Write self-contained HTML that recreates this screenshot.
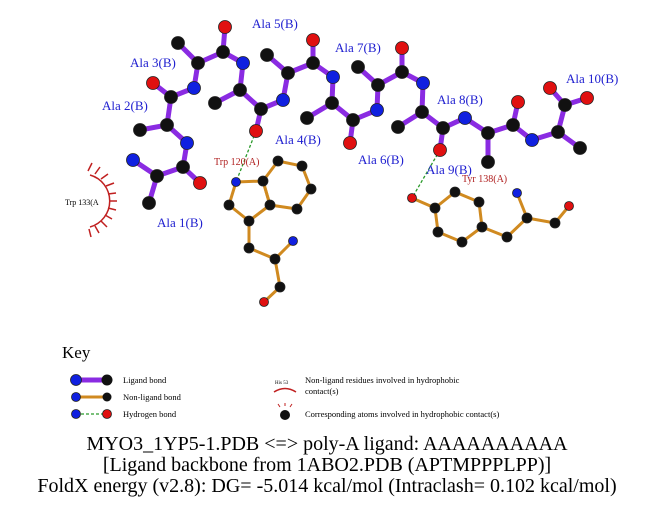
<!DOCTYPE html>
<html><head><meta charset="utf-8"><style>
body{margin:0;background:#fff}
svg{display:block}
.t{font-family:"Liberation Serif",serif}
</style></head><body>
<svg width="651" height="511" viewBox="0 0 651 511" xmlns="http://www.w3.org/2000/svg">
<g stroke="#8a2be2" stroke-width="5" stroke-linecap="round" fill="none">
<polyline points="149,203 157,176 133,160"/>
<polyline points="157,176 183,167 200,183"/>
<polyline points="183,167 187,143 167,125 140,130"/>
<polyline points="167,125 171,97 153,83"/>
<polyline points="171,97 194,88 198,63 178,43"/>
<polyline points="198,63 223,52 225,27"/>
<polyline points="223,52 243,63 240,90 215,103"/>
<polyline points="240,90 261,109 256,131"/>
<polyline points="261,109 283,100 288,73 267,55"/>
<polyline points="288,73 313,63 313,40"/>
<polyline points="313,63 333,77 332,103 307,118"/>
<polyline points="332,103 353,120 350,143"/>
<polyline points="353,120 377,110 378,85 358,67"/>
<polyline points="378,85 402,72 402,48"/>
<polyline points="402,72 423,83 422,112 398,127"/>
<polyline points="422,112 443,128 440,150"/>
<polyline points="443,128 465,118 488,133 488,162"/>
<polyline points="488,133 513,125 518,102"/>
<polyline points="513,125 532,140 558,132 580,148"/>
<polyline points="558,132 565,105 550,88"/>
<polyline points="565,105 587,98"/>
</g>
<g stroke="#d08a20" stroke-width="3" stroke-linecap="round" fill="none">
<polygon points="236,182 263,181 270,205 249,221 229,205"/>
<polygon points="263,181 278,161 302,166 311,189 297,209 270,205"/>
<polyline points="249,221 249,248 275,259 293,241"/>
<polyline points="275,259 280,287 264,302"/>
<polygon points="435,208 455,192 479,202 482,227 462,242 438,232"/>
<polyline points="412,198 435,208"/>
<polyline points="482,227 507,237 527,218 517,193"/>
<polyline points="527,218 555,223 569,206"/>
</g>
<g stroke="#2a9a2a" stroke-width="1.3" stroke-dasharray="3,2">
<line x1="256" y1="131" x2="236" y2="182"/>
<line x1="440" y1="150" x2="412" y2="198"/>
</g>
<g stroke="#222" stroke-width="0.8">
<g fill="#111">
<circle cx="149" cy="203" r="6.5"/><circle cx="157" cy="176" r="6.5"/><circle cx="183" cy="167" r="6.5"/>
<circle cx="167" cy="125" r="6.5"/><circle cx="140" cy="130" r="6.5"/><circle cx="171" cy="97" r="6.5"/>
<circle cx="198" cy="63" r="6.5"/><circle cx="178" cy="43" r="6.5"/><circle cx="223" cy="52" r="6.5"/>
<circle cx="240" cy="90" r="6.5"/><circle cx="215" cy="103" r="6.5"/><circle cx="261" cy="109" r="6.5"/>
<circle cx="288" cy="73" r="6.5"/><circle cx="267" cy="55" r="6.5"/><circle cx="313" cy="63" r="6.5"/>
<circle cx="332" cy="103" r="6.5"/><circle cx="307" cy="118" r="6.5"/><circle cx="353" cy="120" r="6.5"/>
<circle cx="378" cy="85" r="6.5"/><circle cx="358" cy="67" r="6.5"/><circle cx="402" cy="72" r="6.5"/>
<circle cx="422" cy="112" r="6.5"/><circle cx="398" cy="127" r="6.5"/><circle cx="443" cy="128" r="6.5"/>
<circle cx="488" cy="133" r="6.5"/><circle cx="488" cy="162" r="6.5"/><circle cx="513" cy="125" r="6.5"/>
<circle cx="558" cy="132" r="6.5"/><circle cx="580" cy="148" r="6.5"/><circle cx="565" cy="105" r="6.5"/>
<circle cx="263" cy="181" r="5"/><circle cx="270" cy="205" r="5"/><circle cx="249" cy="221" r="5"/><circle cx="229" cy="205" r="5"/>
<circle cx="278" cy="161" r="5"/><circle cx="302" cy="166" r="5"/><circle cx="311" cy="189" r="5"/><circle cx="297" cy="209" r="5"/>
<circle cx="249" cy="248" r="5"/><circle cx="275" cy="259" r="5"/><circle cx="280" cy="287" r="5"/>
<circle cx="435" cy="208" r="5"/><circle cx="455" cy="192" r="5"/><circle cx="479" cy="202" r="5"/><circle cx="482" cy="227" r="5"/>
<circle cx="462" cy="242" r="5"/><circle cx="438" cy="232" r="5"/><circle cx="507" cy="237" r="5"/><circle cx="527" cy="218" r="5"/><circle cx="555" cy="223" r="5"/>
</g>
<g fill="#1020e0">
<circle cx="133" cy="160" r="6.5"/><circle cx="187" cy="143" r="6.5"/><circle cx="194" cy="88" r="6.5"/>
<circle cx="243" cy="63" r="6.5"/><circle cx="283" cy="100" r="6.5"/><circle cx="333" cy="77" r="6.5"/>
<circle cx="377" cy="110" r="6.5"/><circle cx="423" cy="83" r="6.5"/><circle cx="465" cy="118" r="6.5"/>
<circle cx="532" cy="140" r="6.5"/>
<circle cx="236" cy="182" r="4.5"/><circle cx="293" cy="241" r="4.5"/><circle cx="517" cy="193" r="4.5"/>
</g>
<g fill="#e01010">
<circle cx="200" cy="183" r="6.5"/><circle cx="153" cy="83" r="6.5"/><circle cx="225" cy="27" r="6.5"/>
<circle cx="256" cy="131" r="6.5"/><circle cx="313" cy="40" r="6.5"/><circle cx="350" cy="143" r="6.5"/>
<circle cx="402" cy="48" r="6.5"/><circle cx="440" cy="150" r="6.5"/><circle cx="518" cy="102" r="6.5"/>
<circle cx="550" cy="88" r="6.5"/><circle cx="587" cy="98" r="6.5"/>
<circle cx="264" cy="302" r="4.5"/><circle cx="412" cy="198" r="4.5"/><circle cx="569" cy="206" r="4.5"/>
</g>
</g>
<g stroke="#c02020" stroke-width="1.5" fill="none">
<path d="M90,175 A27,27 0 0 1 90,227"/>
<path d="M88,171 l4,-8 M95,174 l5,-7 M101,179 l7,-5 M106,186 l8,-3 M108,194 l8,-1 M109,201 l8,0 M108,208 l8,2 M105,215 l7,4 M101,221 l6,6 M95,226 l4,7 M89,229 l2,8"/>
</g>
<text class="t" x="65" y="205" font-size="8">Trp 133(A</text>
<g class="t" fill="#2020d0" font-size="13">
<text x="130" y="67">Ala 3(B)</text>
<text x="102" y="110">Ala 2(B)</text>
<text x="157" y="227">Ala 1(B)</text>
<text x="252" y="28">Ala 5(B)</text>
<text x="335" y="52">Ala 7(B)</text>
<text x="275" y="144">Ala 4(B)</text>
<text x="358" y="164">Ala 6(B)</text>
<text x="437" y="104">Ala 8(B)</text>
<text x="426" y="174">Ala 9(B)</text>
<text x="566" y="83">Ala 10(B)</text>
</g>
<g class="t" fill="#b02020" font-size="10">
<text x="214" y="165">Trp 120(A)</text>
<text x="462" y="182">Tyr 138(A)</text>
</g>
<text class="t" x="62" y="358" font-size="17">Key</text>
<line x1="76" y1="380" x2="107" y2="380" stroke="#8a2be2" stroke-width="5"/>
<circle cx="76" cy="380" r="5.5" fill="#1020e0" stroke="#222" stroke-width="0.8"/><circle cx="107" cy="380" r="5.5" fill="#111"/>
<line x1="76" y1="397" x2="107" y2="397" stroke="#d08a20" stroke-width="3"/>
<circle cx="76" cy="397" r="4.5" fill="#1020e0" stroke="#222" stroke-width="0.8"/><circle cx="107" cy="397" r="4.5" fill="#111"/>
<line x1="76" y1="414" x2="107" y2="414" stroke="#2a9a2a" stroke-width="1.2" stroke-dasharray="3,2"/>
<circle cx="76" cy="414" r="4.5" fill="#1020e0" stroke="#222" stroke-width="0.8"/><circle cx="107" cy="414" r="4.5" fill="#e01010" stroke="#222" stroke-width="0.8"/>
<g class="t" font-size="8.5">
<text x="123" y="383">Ligand bond</text>
<text x="123" y="400">Non-ligand bond</text>
<text x="123" y="417">Hydrogen bond</text>
<text x="305" y="383">Non-ligand residues involved in hydrophobic</text>
<text x="305" y="394">contact(s)</text>
<text x="305" y="417">Corresponding atoms involved in hydrophobic contact(s)</text>
<text x="275" y="384" font-size="5">His 53</text>
</g>
<path d="M274,392 Q285,385 296,392" stroke="#c02020" stroke-width="1.5" fill="none"/>
<circle cx="285" cy="415" r="5" fill="#111"/>
<path d="M280,407 l-2,-3 M285,406 l0,-3 M290,407 l2,-3" stroke="#c02020" stroke-width="1"/>
<g class="t" font-size="20" text-anchor="middle">
<text x="327" y="450">MYO3_1YP5-1.PDB &lt;=&gt; poly-A ligand: AAAAAAAAAA</text>
<text x="327" y="471">[Ligand backbone from 1ABO2.PDB (APTMPPPLPP)]</text>
<text x="327" y="492">FoldX energy (v2.8): DG= -5.014 kcal/mol (Intraclash= 0.102 kcal/mol)</text>
</g>
</svg>
</body></html>
